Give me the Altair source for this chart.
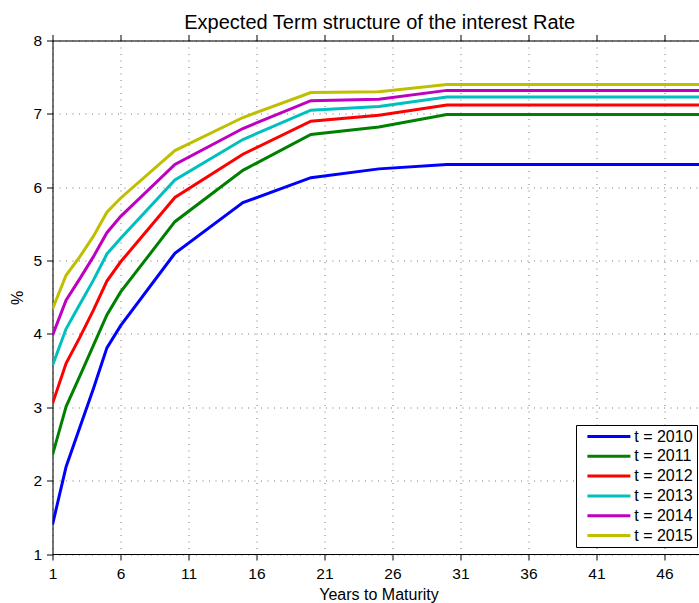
import altair as alt
import pandas as pd

maturities = [1, 2, 3, 4, 5, 6, 10, 15, 20, 25, 30, 50]
series_names = ["t = 2010", "t = 2011", "t = 2012", "t = 2013", "t = 2014", "t = 2015"]
rates_2010 = [1.40, 2.19, 2.72, 3.25, 3.81, 4.11, 5.10, 5.79, 6.13, 6.25, 6.31, 6.31]
rates_2011 = [2.35, 3.01, 3.42, 3.84, 4.26, 4.57, 5.53, 6.23, 6.72, 6.82, 6.99, 6.99]
rates_2012 = [3.05, 3.60, 3.95, 4.32, 4.72, 4.98, 5.86, 6.45, 6.90, 6.98, 7.12, 7.12]
rates_2013 = [3.57, 4.07, 4.40, 4.73, 5.09, 5.30, 6.10, 6.65, 7.05, 7.10, 7.23, 7.23]
rates_2014 = [3.98, 4.46, 4.75, 5.05, 5.38, 5.60, 6.31, 6.80, 7.18, 7.20, 7.32, 7.32]
rates_2015 = [4.34, 4.80, 5.05, 5.33, 5.66, 5.85, 6.50, 6.95, 7.29, 7.30, 7.40, 7.40]
colors = ["#0000FF", "#008000", "#FF0000", "#00BFBF", "#BF00BF", "#BFBF00"]
x_ticks = [1, 6, 11, 16, 21, 26, 31, 36, 41, 46]
y_ticks = [1, 2, 3, 4, 5, 6, 7, 8]

all_rates = [rates_2010, rates_2011, rates_2012, rates_2013, rates_2014, rates_2015]
rows = []
for name, vals in zip(series_names, all_rates):
    for m, v in zip(maturities, vals):
        rows.append({"Maturity": m, "Rate": v, "Series": name})
df = pd.DataFrame(rows)

FONT = "Liberation Sans"
W = 646.5
H = 513.5
XDOM = [1, 48.54]

x_bottom = alt.X(
    "Maturity:Q",
    scale=alt.Scale(domain=XDOM, nice=False, zero=False),
    axis=alt.Axis(
        orient="bottom", values=x_ticks, title="Years to Maturity", grid=True,
        gridDash=[1, 5.5], gridColor="#777777", gridWidth=1,
        domainColor="black", domainWidth=1, tickColor="black", tickSize=6,
        labelFont=FONT, labelFontSize=15.5, labelColor="black", labelPadding=6,
        labelFlush=False,
        titleFont=FONT, titleFontSize=16, titleFontWeight="normal", titleColor="black",
        titleX=326, titleY=45, titleBaseline="alphabetic", titleAlign="center",
    ),
)

y_left = alt.Y(
    "Rate:Q",
    scale=alt.Scale(domain=[1, 8], nice=False, zero=False),
    axis=alt.Axis(
        values=y_ticks, title="%", grid=True,
        gridDash=[1, 5.5], gridColor="#777777", gridWidth=1,
        domainColor="black", domainWidth=1, tickColor="black", tickSize=6,
        labelFont=FONT, labelFontSize=15.5, labelColor="black", labelPadding=5,
        labelFlush=False,
        titleFont=FONT, titleFontSize=16, titleFontWeight="normal", titleColor="black",
        titleX=-35, titleY=257, titleBaseline="middle", titleAlign="center", titleAngle=270,
    ),
)

lines = alt.Chart(df).mark_line(strokeWidth=3, clip=True).encode(
    x=x_bottom,
    y=y_left,
    color=alt.Color(
        "Series:N",
        scale=alt.Scale(domain=series_names, range=colors),
        legend=alt.Legend(
            orient="none", legendX=523.5, legendY=384.5, title=None,
            symbolType="M-4,0H4", symbolSize=115.56, symbolStrokeWidth=3,
            symbolOffset=21.4, labelOffset=17.35,
            labelFont=FONT, labelFontSize=16, labelColor="black",
            strokeColor="black", fillColor="white", padding=3.5, rowPadding=3.8,
        ),
    ),
    order=alt.Order("Series:N"),
)

top_axis = alt.Chart(df).mark_point(opacity=0).encode(
    x=alt.X(
        "Maturity:Q",
        scale=alt.Scale(domain=XDOM, nice=False, zero=False),
        axis=alt.Axis(
            orient="top", values=x_ticks, labels=False, title=None, grid=False,
            domainColor="black", domainWidth=1, tickColor="black", tickSize=6,
        ),
    ),
)

chart = alt.layer(lines, top_axis).resolve_axis(x="independent").properties(
    width=W, height=H,
    title=alt.TitleParams(
        "Expected Term structure of the interest Rate",
        font=FONT, fontSize=20, fontWeight="normal", color="black",
        anchor="middle", baseline="alphabetic", offset=7, dx=4, dy=22,
    ),
    autosize=alt.AutoSizeParams(type="none"),
    padding={"left": 52.5, "top": 40.5, "right": 0, "bottom": 49},
).configure_view(stroke=None).configure(background="white")

chart.save("out.html", embed_options={"renderer": "svg", "actions": False})
